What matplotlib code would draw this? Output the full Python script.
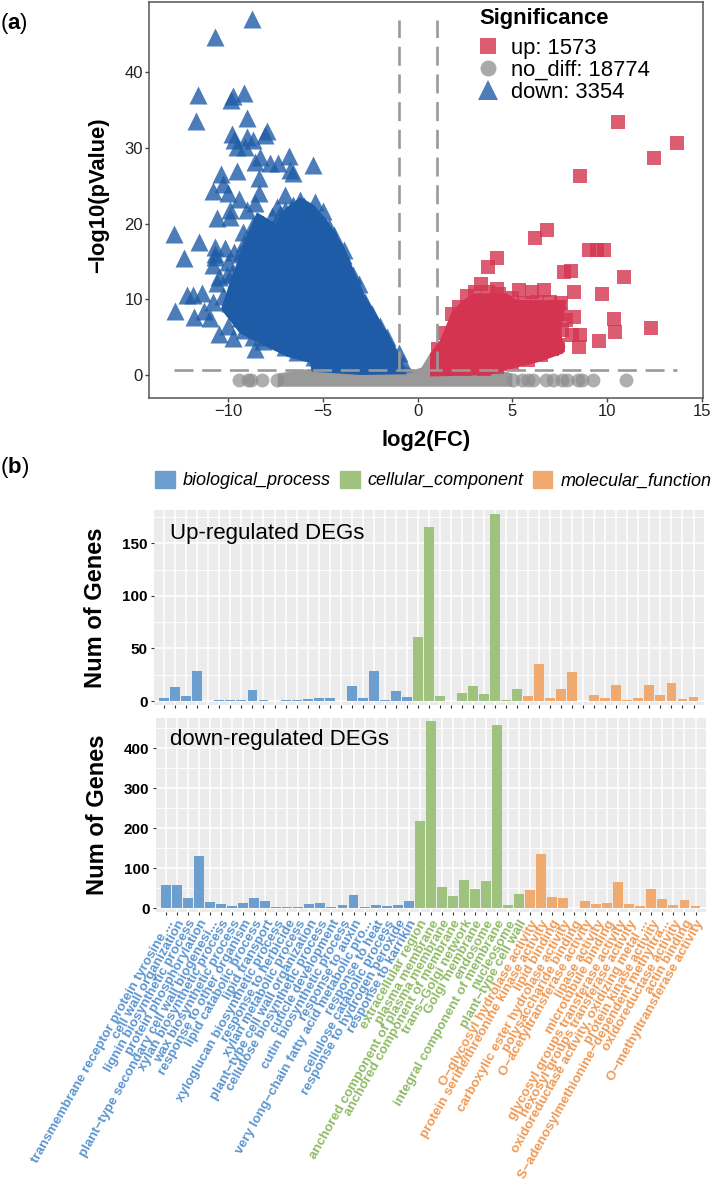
import matplotlib
matplotlib.use('Agg')
import matplotlib.pyplot as plt
from matplotlib.lines import Line2D
from matplotlib.patches import Patch

plt.rcParams['font.family'] = ['Liberation Sans', 'DejaVu Sans']
plt.rcParams['mathtext.fontset'] = 'custom'
plt.rcParams['mathtext.bf'] = 'Liberation Sans:bold'
plt.rcParams['mathtext.rm'] = 'Liberation Sans'

# volcano: points that stand apart from the dense body
down_x = [-8.77, -10.7, -11.6, -11.7, -9.77, -9.16, -9.86, -9.0, -9.83, -9.7, -7.98, -8.07, -9.0, -8.68,
          -9.56, -9.12, -8.33, -8.6, -7.36, -7.8, -6.78, -6.75, -6.57, -5.51, -10.4, -9.56, -8.37, -10.27,
          -10.8, -10.0, -9.42, -8.37, -8.6, -7.0, -9.9, -10.6, -9.9, -9.03, -7.45, -7.0, -6.2, -5.42,
          -4.99, -5.69, -12.9, -11.55, -10.7, -12.33, -10.7, -9.21, -5.07, -4.46, -3.93, -10.8, -12.2,
          -11.85, -11.4, -12.8, -11.8, -10.97, -11.3, -10.8, -10.5, -9.74, -8.6, -10.6, -10.1, -3.4, -2.78,
          -8.7, -8.2, -7.7, -6.6, -6.0, -5.9, -6.8, -7.3, -9.2, -8.9, -9.4, -10.0, -10.5, -9.8, -10.3, -9.9,
          -9.4, -9.2, -10.0, -8.7, -8.2, -7.8, -7.0, -6.4, -5.5, -3.9, -3.1, -2.4, -2.0, -1.6, -1.0, -0.8,
          -4.4, -4.7, -10.7, -10.2, -9.7, -8.4]
down_y = [47.1, 44.7, 37.0, 33.6, 36.9, 37.3, 36.3, 34.0, 31.8, 31.0, 32.3, 31.7, 31.5, 31.0,
          30.2, 30.2, 28.8, 28.2, 28.0, 28.0, 28.9, 27.1, 26.7, 27.8, 26.6, 26.9, 26.0, 25.3,
          24.3, 24.0, 23.2, 24.1, 22.7, 23.8, 21.8, 20.7, 20.9, 21.8, 22.2, 21.8, 23.1, 22.9,
          21.7, 21.6, 18.6, 17.6, 16.9, 15.4, 15.6, 18.9, 18.7, 17.4, 15.9, 14.5, 10.6,
          10.6, 10.9, 8.5, 7.6, 7.5, 8.4, 9.7, 5.4, 4.85, 3.5, 12.1, 13.2, 13.2, 9.7,
          19.8, 20.0, 21.0, 22.5, 22.4, 21.2, 20.5, 21.3, 17.5, 18.0, 16.0, 15.0, 13.0, 13.5, 10.5, 9.5,
          7.5, 6.0, 6.5, 5.0, 4.5, 5.0, 3.7, 3.0, 2.4, 16.5, 12.0, 8.0, 6.5, 5.0, 2.9, 1.6,
          18.5, 19.5, 16.0, 16.8, 16.2, 16.5]
up_x = [10.6, 13.7, 12.5, 8.59, 6.83, 6.21, 9.05, 9.45, 9.84, 4.2, 3.7, 7.73, 8.1, 10.9, 8.26, 9.74,
        3.34, 4.17, 5.35, 6.67, 6.02, 7.57, 8.26, 10.35, 10.4, 12.3, 9.58, 8.57, 8.13, 8.52, 7.83, 7.25,
        1.05, 1.4, 1.8, 2.2, 2.6, 3.0, 3.7, 4.3, 5.0, 5.6, 6.3, 7.0, 7.5, 7.2, 7.6, 7.4, 7.1, 6.5, 5.8, 5.0,
        4.2, 3.5, 1.02, 1.5, 2.5]
up_y = [33.5, 30.7, 28.7, 26.3, 19.1, 18.1, 16.5, 16.5, 16.5, 15.4, 14.3, 13.6, 13.7, 12.9, 11.0, 10.7,
        12.0, 11.4, 11.3, 11.3, 11.0, 9.55, 7.7, 7.35, 5.7, 6.25, 4.5, 5.3, 5.3, 3.75, 7.26, 5.5,
        3.5, 5.5, 8.0, 9.0, 10.5, 11.0, 11.0, 10.7, 10.2, 9.5, 9.7, 9.6, 8.0, 7.0, 6.0, 4.0, 3.5, 2.7, 2.0, 1.4,
        1.0, 0.75, 0.75, 0.75, 0.75]
nodiff_x = [-9.47, -8.95, -8.8, -8.24, -7.45, 5.05, 5.5, 5.8, 6.1, 6.8, 7.17, 7.6, 7.87, 8.47, 8.67, 9.27, 11.0]
nodiff_y = [-0.6] * len(nodiff_x)

# outlines of the dense clouds, where single markers can no longer be told apart
down_body_x = [-10.4, -9.9, -9.56, -9.2, -8.5, -7.5, -7.0, -6.2, -5.5, -4.8, -3.9, -3.4, -2.78, -1.46,
               -1.0, -0.58, -3.0, -5.6, -5.7, -6.9, -7.8, -9.4]
down_body_y = [8.7, 12.5, 14.8, 17.5, 21.5, 20.0, 22.0, 23.5, 22.5, 20.5, 17.0, 14.0, 10.5, 5.0,
               2.9, 0.1, 0.0, 0.44, 1.6, 2.4, 3.5, 5.5]
up_body_x = [0.65, 1.18, 1.8, 2.4, 3.03, 4.7, 5.23, 7.87, 7.5, 7.8, 7.7, 6.46, 4.7, 3.8, 0.65]
up_body_y = [2.87, 4.6, 8.4, 9.9, 10.8, 10.8, 9.9, 9.9, 5.5, 3.75, 2.87, 1.75, 0.66, 0.0, -0.2]
nodiff_body_x = [-7.4, -1.2, -0.6, -0.2, 0.2, 0.65, 0.9, 5.0, 5.0, -7.4]
nodiff_body_y = [0.2, 2.4, 1.1, 0.66, 1.0, 2.87, 2.87, 0.2, -1.55, -1.55]

legend_labels = ['up: 1573', 'no_diff: 18774', 'down: 3354']

# GO enrichment bars
go_terms = ['transmembrane receptor protein tyrosine ...', 'cell wall organization', 'lignin biosynthetic process',
            'protein phosphorylation', 'plant\u2212type secondary cell wall biogenesi...', 'xylan biosynthetic process',
            'wax biosynthetic process', 'response to other organism', 'lipid catabolic process', 'lipid transport',
            'xyloglucan biosynthetic process', 'response to herbicide', 'xylan metabolic process',
            'plant\u2212type cell wall organization', 'cellulose biosynthetic process', 'cuticle development',
            'cutin biosynthetic process', 'response to auxin', 'very long\u2212chain fatty acid metabolic pro...',
            'response to heat', 'cellulose catabolic process', 'response to hydrogen peroxide', 'response to karrikin',
            'extracellular region', 'plasma membrane', 'anchored component of plasma membrane',
            'anchored component of membrane', 'trans\u2212Golgi network', 'Golgi membrane', 'endosome',
            'integral component of membrane', 'nucleosome', 'plant\u2212type cell wall',
            'O\u2212glycosyl hydrolase activity', 'protein serine/threonine kinase activity', 'lipid binding',
            'carboxylic ester hydrolase activity', 'polysaccharide binding', 'O\u2212acetyltransferase activity',
            'lipase activity', 'microtubule binding', 'glycosyl groups transferase activity',
            'hexosyl groups transferase activity', 'oxidoreductase activity, oxidizing metal ...',
            'protein kinase activity', 'S\u2212adenosylmethionine\u2212dependent methyltra...',
            'oxidoreductase activity', 'actin binding', 'O\u2212methyltransferase activity']
go_class = ['biological_process'] * 23 + ['cellular_component'] * 10 + ['molecular_function'] * 16
up_counts = [3, 13, 5, 29, 0.3, 1, 1, 1, 10, 1, 0, 1, 1, 2, 3, 3, 0, 14, 3, 29, 1, 9.5, 4,
             61, 165, 5, 0, 8, 14, 7, 178, 1, 11,
             5, 35, 3, 11, 28, 0.3, 6, 3, 15, 1, 3, 15, 6, 17, 2, 4]
down_counts = [58, 57, 26, 131, 16, 10, 7, 13, 26, 18, 4, 3, 4, 10, 13, 4, 9, 33, 2.5, 8, 6, 8, 18,
               218, 467, 52, 32, 71, 49, 67, 457, 8, 35,
               46, 136, 29, 25, 0.5, 18, 11, 13, 65, 11, 7, 48, 23, 9, 21, 5]
class_colors = {'biological_process': '#6c9fcf', 'cellular_component': '#a0c27f', 'molecular_function': '#f0a96e'}
text_colors = {'biological_process': '#5b95cf', 'cellular_component': '#8fbb66', 'molecular_function': '#ef9a55'}

W, H = 712, 1180


def px_axes(fig, left, right, top, bottom):
    return fig.add_axes([left / W, 1 - bottom / H, (right - left) / W, (bottom - top) / H])


fig = plt.figure(figsize=(W / 100, H / 100), dpi=100)

# panel a
ax = px_axes(fig, 149, 703, 2, 398)
blue = '#1f5ca8'
red = '#d4344f'
grey = '#8c8c8c'
ax.fill(nodiff_body_x, nodiff_body_y, color='#999999', lw=0, zorder=1)
ax.scatter(nodiff_x, nodiff_y, marker='o', s=100, color=grey, alpha=0.7, lw=0, zorder=1)
ax.fill(down_body_x, down_body_y, color=blue, lw=0, zorder=2)
ax.scatter(down_x, down_y, marker='^', s=168, color=blue, alpha=0.8, lw=0, zorder=2)
ax.fill(up_body_x, up_body_y, color=red, lw=0, zorder=2)
ax.scatter(up_x, up_y, marker='s', s=100, color=red, alpha=0.8, lw=0, zorder=2)
dash = (0, (7.2, 3.3))
for xv in [-1, 1]:
    ax.plot([xv, xv], [0.7, 46.9], color='#999999', lw=1.9, ls=dash, dash_capstyle='butt', zorder=3)
ax.plot([-12.9, 13.7], [0.66, 0.66], color='#999999', lw=1.9, ls=dash, dash_capstyle='butt', zorder=3)
ax.set_xlim(-14.2, 15.07)
ax.set_ylim(-3.04, 49.3)
ax.set_xticks([-10, -5, 0, 5, 10, 15])
ax.set_xticklabels(['\u221210', '\u22125', '0', '5', '10', '15'])
ax.set_yticks([0, 10, 20, 30, 40])
ax.tick_params(labelsize=12, length=3, width=1, color='#444444', labelcolor='#222222', pad=1.5)
for s in ax.spines.values():
    s.set_color('#555555')
    s.set_linewidth(1.1)
ax.set_xlabel('log2(FC)', fontsize=15.8, fontweight='bold', labelpad=8)
ax.set_ylabel('\u2212log10(pValue)', fontsize=15.8, fontweight='bold')
ax.yaxis.set_label_coords((109 - 149) / 554, (398 - 195) / 396, transform=ax.transAxes)
handles = [Line2D([], [], marker='s', ls='', ms=11, color=red, alpha=0.8, mew=0),
           Line2D([], [], marker='o', ls='', ms=11.5, color=grey, alpha=0.75, mew=0),
           Line2D([], [], marker='^', ls='', ms=15, color=blue, alpha=0.8, mew=0)]
leg = ax.legend(handles, legend_labels, title='Significance', loc='upper left', bbox_to_anchor=(326 / 554, 0.995),
                frameon=False, fontsize=15.8, labelspacing=0.05, handletextpad=0.6, handlelength=0.82,
                alignment='left', borderaxespad=0, borderpad=0.2)
leg.get_title().set_fontsize(15.8)
leg.get_title().set_fontweight('bold')
leg._legend_box.sep = 6

# panels b
colors = [class_colors[c] for c in go_class]
positions = list(range(len(go_terms)))
ax_up = px_axes(fig, 154, 704, 510, 705)
ax_down = px_axes(fig, 155.7, 706, 718, 911.7)
for a, counts, ylim, ticks, minor in [(ax_up, up_counts, (-3.8, 181.6), [0, 50, 100, 150], [25, 75, 125, 175]),
                                      (ax_down, down_counts, (-8.4, 475), [0, 100, 200, 300, 400],
                                       [50, 150, 250, 350, 450])]:
    a.set_facecolor('#ebebeb')
    a.bar(positions, counts, width=0.9, color=colors, zorder=3)
    a.set_xlim(-0.93, 48.95)
    a.set_ylim(*ylim)
    a.set_xticks(positions)
    a.set_yticks(ticks)
    a.set_yticks(minor, minor=True)
    a.grid(which='major', color='white', lw=1.1, zorder=1)
    a.grid(which='minor', axis='y', color='white', lw=0.6, zorder=1)
    a.set_axisbelow(True)
    for s in a.spines.values():
        s.set_visible(False)
    a.tick_params(axis='y', which='minor', length=0)
    a.tick_params(axis='both', which='major', length=2.5, width=0.8, color='#333333', pad=2)
    a.set_ylabel('Num of Genes', fontsize=17, fontweight='bold')
    for lab in a.get_yticklabels():
        lab.set_fontsize(11)
        lab.set_fontweight('bold')
ax_up.yaxis.set_label_coords((107 - 154) / 550, (705 - 607.5) / 195, transform=ax_up.transAxes)
ax_down.yaxis.set_label_coords((109 - 155.7) / 550.3, (911.7 - 815) / 193.7, transform=ax_down.transAxes)
ax_up.set_xticklabels([])
ax_down.set_xticklabels(go_terms, rotation=60.5, ha='right', va='top', rotation_mode='anchor', fontsize=9.6,
                        fontweight='bold')
for lab, c in zip(ax_down.get_xticklabels(), go_class):
    lab.set_color(text_colors[c])
ax_up.text(170 / W, 1 - 533 / H, 'Up-regulated DEGs', transform=fig.transFigure,
           fontsize=16, va='center', zorder=5)
ax_down.text(170 / W, 1 - 740 / H, 'down-regulated DEGs', transform=fig.transFigure, fontsize=16, va='center', zorder=5)

fig.legend([Patch(color=class_colors[k]) for k in class_colors], list(class_colors), loc='center left',
           bbox_to_anchor=(148 / W, 1 - 480 / H), ncol=3, frameon=False, prop={'size': 12.95, 'style': 'italic'},
           handlelength=1.1, handleheight=1.1, handletextpad=0.44, columnspacing=0.5, borderaxespad=0)

fig.text(0 / W, 1 - 23 / H, r'($\mathbf{a}$)', fontsize=16, va='center')
fig.text(0 / W, 1 - 468 / H, r'($\mathbf{b}$)', fontsize=16, va='center')

fig.savefig('out.png', dpi=100)
